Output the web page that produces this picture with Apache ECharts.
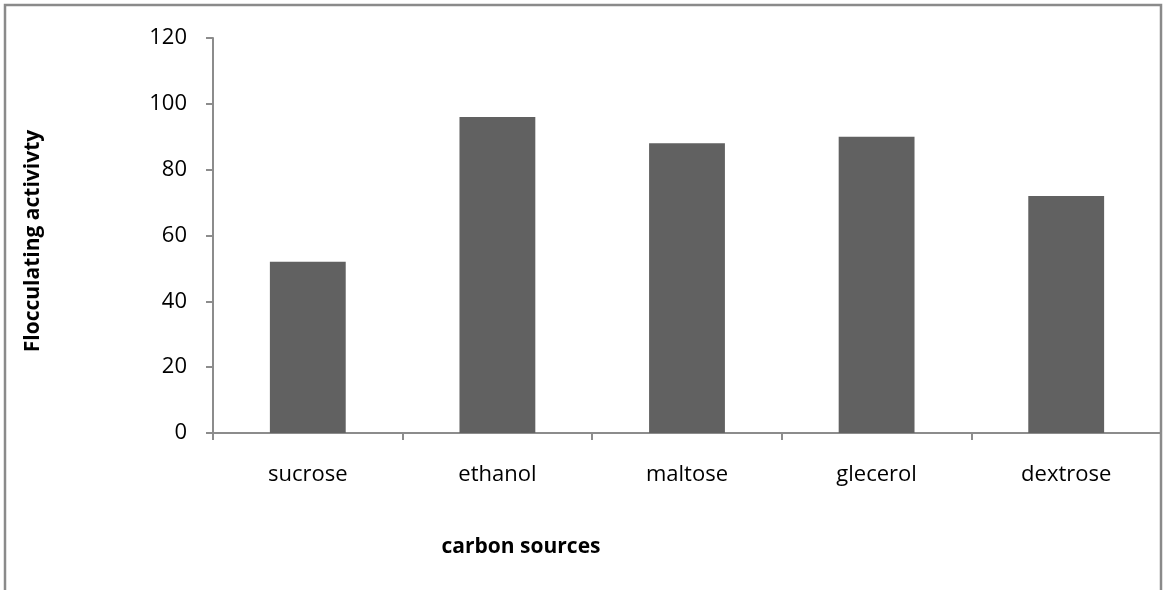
<!DOCTYPE html>
<html>
<head>
<meta charset="utf-8">
<script src="https://cdn.jsdelivr.net/npm/echarts@6/dist/echarts.min.js"></script>
<style>
  html, body { margin: 0; padding: 0; background: #fff; }
  #chart { width: 1163px; height: 590px; }
</style>
</head>
<body>
<div id="chart"></div>
<script>
// Carbon sources tested and the flocculating activity measured for each
const categories = ['sucrose', 'ethanol', 'maltose', 'glecerol', 'dextrose'];
const activity = [52, 96, 88, 90, 72];
const yTicks = { min: 0, max: 120, interval: 20 };

const font = '"Open Sans", Lato, "Liberation Sans", sans-serif';
const axisGray = '#8c8c8c';

const chart = echarts.init(document.getElementById('chart'), null, { renderer: 'canvas' });
chart.setOption({
  animation: false,
  backgroundColor: '#ffffff',
  grid: { left: 213, top: 38, right: 2, bottom: 157, containLabel: false },
  xAxis: {
    type: 'category',
    data: categories,
    axisLine: { show: true, lineStyle: { color: axisGray, width: 2 } },
    axisTick: { show: true, length: 7, lineStyle: { color: axisGray, width: 2 } },
    axisLabel: { color: '#000', fontFamily: font, fontSize: 22, margin: 31 },
    splitLine: { show: false }
  },
  yAxis: {
    type: 'value',
    min: yTicks.min,
    max: yTicks.max,
    interval: yTicks.interval,
    axisLine: { show: true, lineStyle: { color: axisGray, width: 2 } },
    axisTick: { show: true, length: 7, lineStyle: { color: axisGray, width: 2 } },
    axisLabel: { color: '#000', fontFamily: font, fontSize: 22, margin: 26 },
    splitLine: { show: false }
  },
  series: [{
    type: 'bar',
    data: activity,
    barWidth: '40%',
    itemStyle: { color: '#616161' }
  }],
  graphic: [
    {
      type: 'rect',
      silent: true,
      shape: { x: 5, y: 5, width: 1156, height: 640 },
      style: { fill: 'none', stroke: '#8a8a8a', lineWidth: 2.5 }
    },
    {
      type: 'text',
      x: 33, y: 241,
      rotation: Math.PI / 2,
      style: {
        text: 'Flocculating activivty',
        fill: '#000',
        font: 'bold 21px ' + font,
        align: 'center',
        verticalAlign: 'middle'
      }
    },
    {
      type: 'text',
      x: 521, y: 547,
      style: {
        text: 'carbon sources',
        fill: '#000',
        font: 'bold 21px ' + font,
        align: 'center',
        verticalAlign: 'middle'
      }
    }
  ]
});
</script>
</body>
</html>
